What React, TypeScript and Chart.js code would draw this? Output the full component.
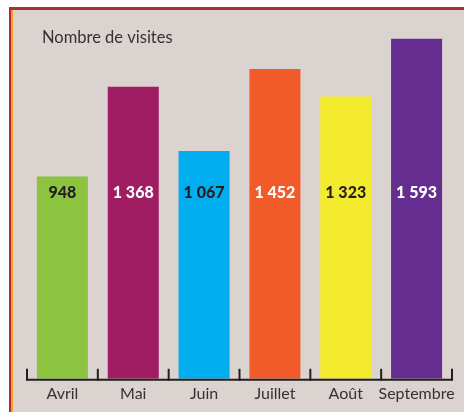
import React, { useEffect, useRef } from "react";
import { Chart, registerables } from "chart.js";

Chart.register(...registerables);

const months = ["Avril", "Mai", "Juin", "Juillet", "Août", "Septembre"];
const visits = [948, 1368, 1067, 1452, 1323, 1593];
const barColors = ["#8cc43f", "#a11d63", "#00adee", "#f15a29", "#f4eb2e", "#652d8f"];
const labelColors = ["#231f20", "#ffffff", "#231f20", "#ffffff", "#231f20", "#ffffff"];
const chartTitle = "Nombre de visites";
const labelLevel = 870;
const yMax = 1700;

const FONT = "Lato, 'Open Sans', sans-serif";

function fmt(n: number): string {
  return String(n).replace(/\B(?=(\d{3})+(?!\d))/g, " ");
}

const decorPlugin = {
  id: "decor",
  afterDatasetsDraw(chart: any) {
    const { ctx, chartArea, scales } = chart;
    const x = scales.x;
    const y = scales.y;
    ctx.save();
    // value labels
    const meta = chart.getDatasetMeta(0);
    ctx.font = `900 16px ${FONT}`;
    ctx.textAlign = "center";
    ctx.textBaseline = "middle";
    meta.data.forEach((bar: any, i: number) => {
      ctx.fillStyle = labelColors[i];
      ctx.fillText(fmt(visits[i]), bar.x, y.getPixelForValue(labelLevel));
    });
    // axis line
    const base = chartArea.bottom;
    ctx.strokeStyle = "#231f20";
    ctx.lineWidth = 2;
    ctx.beginPath();
    ctx.moveTo(chartArea.left, base + 1);
    ctx.lineTo(chartArea.right, base + 1);
    ctx.stroke();
    const half = (x.getPixelForValue(1) - x.getPixelForValue(0)) / 2;
    for (let i = 0; i <= months.length; i++) {
      const px = i < months.length ? x.getPixelForValue(i) - half : x.getPixelForValue(months.length - 1) + half;
      ctx.beginPath();
      ctx.moveTo(px, base - 10);
      ctx.lineTo(px, base + 2);
      ctx.stroke();
    }
    // title
    ctx.fillStyle = "#333";
    ctx.font = `16.5px ${FONT}`;
    ctx.textAlign = "left";
    ctx.textBaseline = "middle";
    ctx.fillText(chartTitle, chartArea.left + 15, 38);
    ctx.restore();
  },
};

export default function App() {
  const ref = useRef<HTMLCanvasElement>(null);
  useEffect(() => {
    if (!ref.current) return;
    const chart = new Chart(ref.current, {
      type: "bar",
      data: {
        labels: months,
        datasets: [
          {
            data: visits,
            backgroundColor: barColors,
            borderWidth: 0,
            categoryPercentage: 0.72,
            barPercentage: 1,
          },
        ],
      },
      options: {
        responsive: false,
        animation: false,
        layout: { padding: { left: 27, right: 12, top: 16, bottom: 4 } },
        plugins: { legend: { display: false }, title: { display: false }, tooltip: { enabled: false } },
        scales: {
          x: {
            grid: { display: false, drawTicks: false },
            border: { display: false },
            ticks: { color: "#333", font: { family: FONT, size: 16 }, padding: 5, maxRotation: 0, autoSkip: false },
          },
          y: {
            display: false,
            min: 0,
            max: yMax,
          },
        },
      },
      plugins: [decorPlugin],
    });
    return () => chart.destroy();
  }, []);
  return (
    <div style={{ position: "fixed", left: 0, top: 0, width: 464, height: 412, background: "#fff", overflow: "hidden" }}>
      <div
        style={{
          position: "absolute",
          left: 9,
          top: 7,
          right: -10,
          bottom: -10,
          background: "#dbd3cf",
          borderTop: "3px solid #a3323b",
          borderLeft: "2px solid #b8262f",
        }}
      >
        <div style={{ position: "absolute", left: 0, top: 0, bottom: 0, width: 2, background: "#f2a31b" }} />
      </div>
      <canvas ref={ref} width={464} height={412} style={{ position: "absolute", left: 0, top: 0 }} />
    </div>
  );
}
